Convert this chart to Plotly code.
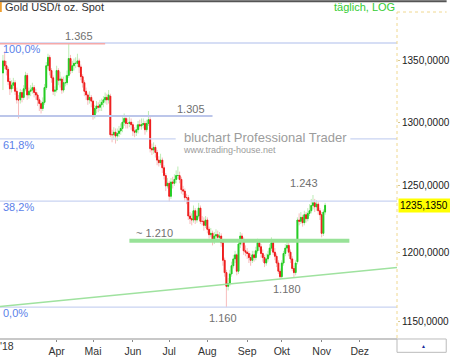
import numpy as np
import pandas as pd
import plotly.graph_objects as go

start_date = "2018-02-16"

opens = [1340,1350,1346,1343,1333,1327,1330,1332,1325,1318,1318,1324,1320,1327,1338,1322,1325,1326,1328,1324,
         1322,1318,1315,1311,1316,1328,1346,1353,1342,1336,1325,1326,1342,1334,1335,1326,1332,1332,1338,1352,
         1342,1346,1348,1348,1350,1345,1337,1332,1325,1322,1318,1320,1317,1305,1311,1313,1312,1314,1316,1318,
         1320,1318,1321,1290,1290,1292,1289,1291,1293,1295,1300,1303,1299,1299,1300,1298,1293,1292,1294,1298,
         1297,1298,1299,1294,1299,1302,1279,1278,1280,1276,1270,1268,1270,1264,1258,1250,1252,1242,1253,1252,
         1255,1258,1258,1255,1247,1246,1241,1241,1227,1225,1224,1231,1224,1227,1233,1223,1223,1220,1224,1217,
         1213,1214,1208,1212,1213,1211,1212,1207,1194,1185,1175,1177,1184,1190,1195,1198,1186,1206,1212,1209,
         1201,1200,1199,1196,1194,1198,1196,1201,1207,1204,1199,1196,1192,1195,1198,1203,1207,1200,1197,1192,
         1186,1182,1192,1199,1203,1205,1200,1195,1188,1185,1193,1224,1223,1226,1222,1228,1225,1229,1231,1235,
         1237,1234,1236,1231,1228,1214,1230]
highs = [1355,1358,1350,1345,1336,1334,1336,1334,1328,1322,1327,1326,1330,1341,1340,1328,1330,1332,1330,1327,
         1324,1320,1317,1320,1331,1349,1356,1355,1344,1338,1329,1346,1344,1341,1337,1337,1338,1342,1365,1355,
         1350,1352,1353,1356,1352,1347,1339,1334,1328,1324,1325,1322,1318,1314,1317,1316,1318,1319,1321,1324,
         1323,1326,1323,1294,1296,1295,1295,1297,1299,1304,1307,1305,1303,1304,1303,1300,1296,1298,1301,1302,
         1303,1303,1301,1302,1309,1304,1283,1284,1282,1278,1273,1275,1272,1266,1260,1256,1254,1256,1257,1259,
         1262,1265,1261,1257,1250,1248,1244,1243,1230,1229,1235,1233,1231,1237,1235,1227,1226,1227,1226,1219,
         1218,1216,1215,1217,1216,1215,1214,1209,1196,1187,1181,1187,1193,1198,1201,1199,1208,1215,1214,1211,
         1205,1203,1201,1199,1201,1201,1204,1210,1209,1206,1202,1198,1199,1201,1206,1211,1209,1203,1199,1194,
         1188,1194,1201,1206,1209,1207,1202,1197,1190,1194,1226,1229,1230,1228,1231,1230,1233,1236,1240,1243,
         1240,1239,1238,1233,1230,1232,1237]
lows = [1326,1343,1338,1330,1322,1324,1327,1322,1315,1303,1315,1316,1318,1325,1318,1319,1321,1323,1320,1318,
        1313,1309,1307,1309,1314,1326,1343,1338,1332,1322,1321,1324,1330,1328,1323,1324,1329,1330,1336,1339,
        1340,1342,1344,1345,1340,1334,1328,1321,1318,1314,1315,1312,1302,1303,1307,1308,1309,1309,1312,1315,
        1314,1315,1288,1284,1286,1283,1285,1288,1290,1292,1297,1295,1295,1296,1294,1289,1288,1289,1291,1294,
        1294,1295,1290,1292,1297,1276,1274,1275,1272,1266,1265,1266,1260,1255,1246,1248,1238,1240,1248,1250,
        1252,1255,1252,1244,1243,1238,1236,1224,1221,1220,1222,1221,1222,1225,1221,1220,1216,1218,1214,1210,
        1211,1205,1206,1209,1208,1209,1204,1190,1182,1160,1172,1175,1182,1188,1192,1183,1184,1203,1205,1198,
        1197,1195,1192,1190,1192,1193,1194,1199,1201,1196,1193,1189,1190,1193,1196,1201,1198,1194,1189,1184,
        1180,1181,1190,1197,1201,1197,1192,1186,1181,1183,1191,1220,1221,1219,1220,1222,1223,1227,1229,1232,
        1230,1231,1228,1224,1211,1212,1228]
closes = [1350,1346,1343,1333,1327,1330,1332,1325,1318,1318,1324,1320,1327,1338,1322,1325,1326,1328,1324,1322,
          1318,1315,1311,1316,1328,1346,1353,1342,1336,1325,1326,1342,1334,1335,1326,1332,1332,1338,1352,1342,
          1346,1348,1348,1350,1345,1337,1332,1325,1322,1318,1320,1317,1305,1311,1313,1312,1314,1316,1318,1320,
          1318,1322,1290,1290,1292,1289,1291,1293,1295,1300,1303,1299,1299,1300,1298,1293,1292,1294,1298,1297,
          1298,1299,1294,1299,1302,1279,1278,1280,1276,1270,1268,1270,1264,1258,1250,1252,1242,1253,1252,1255,
          1258,1258,1255,1247,1246,1241,1241,1227,1225,1224,1231,1224,1227,1233,1223,1223,1220,1224,1217,1213,
          1214,1208,1212,1213,1211,1212,1207,1194,1185,1175,1177,1184,1190,1195,1198,1186,1206,1212,1209,1201,
          1200,1199,1196,1194,1198,1196,1201,1207,1204,1199,1196,1192,1195,1198,1203,1207,1200,1197,1192,1186,
          1182,1192,1199,1203,1205,1200,1195,1188,1185,1192,1224,1223,1226,1222,1228,1225,1229,1231,1235,1237,
          1234,1236,1231,1228,1214,1230,1235.135]

month_names = ["Apr", "Mai", "Jun", "Jul", "Aug", "Sep", "Okt", "Nov", "Dez"]
month_numbers = [4, 5, 6, 7, 8, 9, 10, 11, 12]
year_label = "'18"
y_tick_values = [1150, 1200, 1250, 1300, 1350]
last_price = 1235.135

swing_high = 1365
swing_low = 1160
fib_ratios = [1.0, 0.618, 0.382, 0.0]
fib_labels = ["100,0%", "61,8%", "38,2%", "0,0%"]
resistance_level = 1305
resistance_end_date = "2018-08-06"
high_mark_end_date = "2018-05-10"
support_level = 1208.5
support_dates = ["2018-05-30", "2018-11-23"]
trend_prices = [1160.5, 1188.7]
level_labels = ["1.365", "1.305", "~ 1.210", "1.160", "1.180", "1.243"]

# ---------------------------------------------------------------
n = len(closes)
idx = np.arange(n)
days = pd.bdate_range(start_date, periods=260)
pos = {d.strftime("%Y-%m-%d"): i for i, d in enumerate(days)}

tick_pos = []
for m in month_numbers:
    first = [i for i, d in enumerate(days) if d.year == 2018 and d.month == m][0]
    tick_pos.append(first)

x_range = [-1.7, 227.5]
y_lo, y_hi = 1138.2, 1391.3

pale_g, pale_r = "#bdecb5", "#f7bcbc"
bright_g, bright_r = "#22cc22", "#ee1c1c"
fib_col = "#c9d3f2"
FONT = "Liberation Sans, Arial, sans-serif"

fig = go.Figure()

fib_values = [swing_low + r * (swing_high - swing_low) for r in fib_ratios]
for v in fib_values:
    fig.add_trace(go.Scatter(x=x_range, y=[v, v], mode="lines",
                             line=dict(color=fib_col, width=1.3), hoverinfo="skip"))
fig.add_trace(go.Scatter(x=[x_range[0], pos[high_mark_end_date]], y=[swing_high - 0.7] * 2, mode="lines",
                         line=dict(color="#f5a9a9", width=1.5), hoverinfo="skip"))
fig.add_trace(go.Scatter(x=[x_range[0], pos[resistance_end_date]], y=[resistance_level] * 2, mode="lines",
                         line=dict(color="#bcc6ea", width=2), hoverinfo="skip"))
fig.add_trace(go.Scatter(x=x_range, y=trend_prices, mode="lines",
                         line=dict(color="#9fe29f", width=1.5), hoverinfo="skip"))

fig.add_trace(go.Candlestick(
    x=idx, open=opens, high=highs, low=lows, close=closes,
    increasing=dict(line=dict(color=pale_g, width=1), fillcolor=pale_g),
    decreasing=dict(line=dict(color=pale_r, width=1), fillcolor=pale_r),
    whiskerwidth=0, hoverinfo="skip"))
body_hi = [max(o, c) for o, c in zip(opens, closes)]
body_lo = [min(o, c) for o, c in zip(opens, closes)]
fig.add_trace(go.Candlestick(
    x=idx, open=opens, high=body_hi, low=body_lo, close=closes,
    increasing=dict(line=dict(color=bright_g, width=1), fillcolor=bright_g),
    decreasing=dict(line=dict(color=bright_r, width=1), fillcolor=bright_r),
    whiskerwidth=0, hoverinfo="skip"))

fig.add_trace(go.Scatter(x=[pos[d] for d in support_dates], y=[support_level] * 2, mode="lines",
                         line=dict(color="#98e298", width=4), hoverinfo="skip"))

def px2p(py):
    return (342 - py) / 330.0

ann = []
lab_font = dict(family=FONT, size=11, color="#707070")
ann.append(dict(x=44.1, y=np.log10(swing_high), text=level_labels[0], yanchor="bottom", yshift=-1, font=lab_font))
ann.append(dict(x=108.3, y=np.log10(resistance_level), text=level_labels[1], yanchor="bottom", yshift=-1, font=lab_font))
ann.append(dict(x=87.7, y=np.log10(support_level), text=level_labels[2], yanchor="bottom", yshift=0, font=lab_font))
ann.append(dict(x=127.2, y=np.log10(swing_low), text=level_labels[3], yanchor="top", yshift=-3, font=lab_font))
ann.append(dict(x=163.9, y=np.log10(min(lows[150:175])), text=level_labels[4], yanchor="top", yshift=-2, font=lab_font))
ann.append(dict(x=173.6, y=np.log10(max(highs[170:187])), text=level_labels[5], yanchor="bottom", yshift=4, font=lab_font))
for a in ann:
    a.update(xref="x", yref="y", showarrow=False, xanchor="center")

for v, t in zip(fib_values, fib_labels):
    ann.append(dict(xref="paper", yref="y", x=0, xshift=1, y=np.log10(v), yshift=2, text=t,
                    xanchor="left", yanchor="top", showarrow=False,
                    font=dict(family=FONT, size=11, color="#5b7fe9")))

# watermark
ann.append(dict(xref="paper", yref="paper", x=184 / 400, y=px2p(139), xanchor="left", yanchor="middle",
                text="bluchart Professional Trader", showarrow=False, borderpad=0,
                font=dict(family=FONT, size=13, color="#9c9c9c")))
ann.append(dict(xref="paper", yref="paper", x=183 / 400, y=px2p(151.5), xanchor="left", yanchor="middle",
                text="www.trading-house.net", showarrow=False, borderpad=0,
                font=dict(family=FONT, size=9, color="#9c9c9c")))

ann.append(dict(xref="paper", yref="paper", x=3 / 400, y=px2p(6.5), xanchor="left", yanchor="middle",
                text="Gold USD/t oz. Spot", showarrow=False,
                font=dict(family=FONT, size=11, color="#333333")))
ann.append(dict(xref="paper", yref="paper", x=1, y=px2p(6.5), xanchor="right", yanchor="middle",
                text="täglich, LOG", showarrow=False,
                font=dict(family=FONT, size=11, color="#33cc33")))
ann.append(dict(xref="paper", yref="paper", x=-2 / 400, y=px2p(350), xanchor="left", yanchor="middle",
                text=year_label, showarrow=False,
                font=dict(family=FONT, size=10.5, color="#333333")))

ann.append(dict(xref="paper", yref="y", x=1, xshift=1, y=np.log10(last_price), xanchor="left", yanchor="middle",
                text="1235,1350", showarrow=False, bgcolor="#ffff00", borderpad=1, width=50, align="left",
                font=dict(family=FONT, size=10, color="#000000")))
ann.append(dict(xref="paper", yref="paper", x=427 / 400, y=px2p(350), xanchor="center", yanchor="middle",
                text="▲", showarrow=False, font=dict(size=5, color="#1a2a9c")))

shapes = [
    dict(type="rect", xref="paper", yref="paper", x0=177 / 400, x1=353 / 400, y0=px2p(143), y1=px2p(137),
         line=dict(width=0), fillcolor="white", layer="above"),
    dict(type="line", xref="paper", yref="paper", x0=0, x1=1.125, y0=px2p(1), y1=px2p(1),
         line=dict(color="#555555", width=2)),
    dict(type="line", xref="paper", yref="paper", x0=0.002, x1=0.002, y0=px2p(2), y1=px2p(12),
         line=dict(color="#f0a030", width=2)),
    dict(type="line", xref="paper", yref="paper", x0=1, x1=1, y0=0, y1=1,
         line=dict(color="#f0d890", width=1, dash="dot")),
    dict(type="line", xref="paper", yref="paper", x0=1, x1=1.125, y0=1, y1=1,
         line=dict(color="#f0d890", width=1, dash="dot")),
    dict(type="rect", xref="paper", yref="paper", x0=1.0, x1=1.124, y0=px2p(343), y1=px2p(356.5),
         line=dict(color="#bbbbbb", width=1)),
]

fig.update_layout(
    width=450, height=357,
    margin=dict(l=0, r=50, t=12, b=15),
    paper_bgcolor="white", plot_bgcolor="white",
    showlegend=False,
    annotations=ann, shapes=shapes,
    xaxis=dict(range=x_range, rangeslider=dict(visible=False), showgrid=False, zeroline=False,
               tickmode="array", tickvals=tick_pos, ticktext=month_names,
               ticks="outside", ticklen=2, tickcolor="#888888",
               showline=True, linecolor="#c8c8c8", linewidth=2,
               tickfont=dict(family=FONT, size=10.5, color="#333333")),
    yaxis=dict(type="log", range=[np.log10(y_lo), np.log10(y_hi)], side="right",
               showgrid=False, zeroline=False, tickmode="array", tickvals=y_tick_values,
               ticktext=[f"{v:.4f}".replace(".", ",") for v in y_tick_values],
               ticks="outside", ticklen=2, tickcolor="#d8c890",
               tickfont=dict(family=FONT, size=10, color="#1a1a1a")),
)

fig.write_html("out.html", config={"displayModeBar": False},
               post_script="document.body.style.margin='0';")
